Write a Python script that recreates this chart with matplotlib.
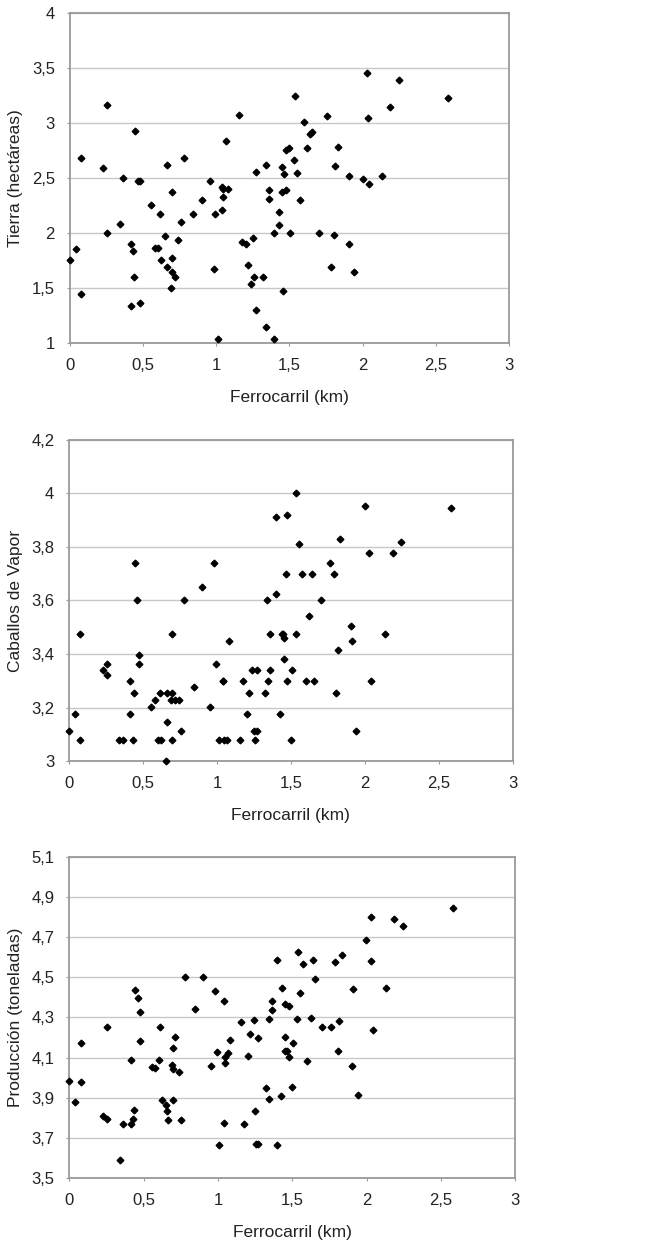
import numpy as np
import matplotlib.pyplot as plt
from matplotlib.ticker import FuncFormatter, FixedLocator, MultipleLocator

plt.rcParams["font.family"] = ["Liberation Sans", "DejaVu Sans"]

# Panel 1: Tierra (hectareas) vs Ferrocarril (km)
x_tierra = [0.0, 0.043, 0.08, 0.08, 0.23, 0.255, 0.255, 0.344, 0.362, 0.417, 0.417, 0.43,
            0.442, 0.448, 0.464, 0.478, 0.478, 0.558, 0.58, 0.603, 0.615, 0.626, 0.653,
            0.662, 0.665, 0.69, 0.699, 0.699, 0.699, 0.717, 0.742, 0.758, 0.778, 0.845,
            0.904, 0.961, 0.983, 0.992, 1.015, 1.043, 1.045, 1.045, 1.043, 1.07, 1.081,
            1.159, 1.179, 1.204, 1.216, 1.241, 1.25, 1.257, 1.272, 1.272, 1.323, 1.343,
            1.343, 1.364, 1.364, 1.398, 1.398, 1.43, 1.432, 1.448, 1.452, 1.455, 1.464,
            1.475, 1.477, 1.498, 1.507, 1.532, 1.539, 1.55, 1.575, 1.603, 1.623, 1.644,
            1.653, 1.70, 1.76, 1.787, 1.807, 1.814, 1.835, 1.905, 1.91, 1.942, 2.003,
            2.03, 2.035, 2.044, 2.133, 2.19, 2.247, 2.581]
y_tierra = [1.755, 1.86, 2.68, 1.445, 2.59, 3.17, 2.0, 2.085, 2.506, 1.903, 1.342, 1.842,
            1.603, 2.927, 2.476, 2.476, 1.364, 2.255, 1.87, 1.87, 2.176, 1.755, 1.973,
            2.618, 1.69, 1.503, 2.373, 1.779, 1.652, 1.603, 1.942, 2.106, 2.682, 2.176,
            2.30, 2.476, 1.679, 2.176, 1.04, 2.424, 2.406, 2.33, 2.215, 2.842, 2.403,
            3.073, 1.924, 1.906, 1.712, 1.542, 1.96, 1.603, 2.56, 1.30, 1.603, 2.624,
            1.145, 2.39, 2.315, 2.0, 1.04, 2.19, 2.076, 2.373, 2.606, 1.476, 2.54,
            2.76, 2.394, 2.779, 2.0, 2.67, 3.245, 2.545, 2.30, 3.015, 2.779, 2.90,
            2.92, 2.0, 3.07, 1.697, 1.985, 2.612, 2.788, 1.906, 2.524, 1.652, 2.494,
            3.455, 3.05, 2.445, 2.524, 3.152, 3.397, 3.23]

# Panel 2: Caballos de Vapor vs Ferrocarril (km)
x_vapor = [0.0, 0.04, 0.077, 0.077, 0.23, 0.255, 0.255, 0.34, 0.363, 0.414, 0.414, 0.43,
           0.439, 0.448, 0.462, 0.477, 0.477, 0.554, 0.579, 0.601, 0.613, 0.624, 0.653,
           0.662, 0.662, 0.687, 0.698, 0.698, 0.698, 0.714, 0.743, 0.755, 0.777, 0.845,
           0.90, 0.955, 0.982, 0.991, 1.014, 1.04, 1.044, 1.047, 1.068, 1.079, 1.155,
           1.176, 1.203, 1.214, 1.239, 1.252, 1.255, 1.27, 1.27, 1.322, 1.34, 1.342,
           1.36, 1.36, 1.396, 1.396, 1.428, 1.437, 1.444, 1.45, 1.453, 1.464, 1.475,
           1.475, 1.498, 1.507, 1.532, 1.536, 1.552, 1.574, 1.601, 1.624, 1.642, 1.653,
           1.70, 1.761, 1.788, 1.806, 1.815, 1.833, 1.903, 1.91, 1.941, 2.002, 2.029,
           2.043, 2.133, 2.189, 2.245, 2.581]
y_vapor = [3.113, 3.175, 3.476, 3.078, 3.341, 3.362, 3.321, 3.078, 3.078, 3.30, 3.175, 3.078,
           3.254, 3.74, 3.60, 3.397, 3.362, 3.203, 3.23, 3.078, 3.254, 3.078, 3.0,
           3.254, 3.146, 3.23, 3.476, 3.254, 3.078, 3.23, 3.23, 3.113, 3.60, 3.279,
           3.652, 3.203, 3.74, 3.362, 3.078, 3.30, 3.30, 3.078, 3.078, 3.447, 3.078,
           3.30, 3.175, 3.254, 3.341, 3.113, 3.078, 3.341, 3.113, 3.254, 3.60, 3.30,
           3.476, 3.341, 3.913, 3.623, 3.175, 3.476, 3.476, 3.461, 3.381, 3.70, 3.918,
           3.30, 3.078, 3.341, 3.476, 4.0, 3.812, 3.70, 3.30, 3.544, 3.70, 3.30,
           3.60, 3.74, 3.70, 3.254, 3.414, 3.831, 3.504, 3.447, 3.113, 3.954, 3.777,
           3.30, 3.476, 3.777, 3.818, 3.944]

# Panel 3: Produccion (toneladas) vs Ferrocarril (km)
x_prod = [0.0, 0.04, 0.076, 0.076, 0.229, 0.253, 0.253, 0.341, 0.361, 0.413, 0.415, 0.428,
          0.437, 0.444, 0.46, 0.475, 0.475, 0.554, 0.576, 0.601, 0.612, 0.621, 0.65,
          0.659, 0.661, 0.688, 0.695, 0.695, 0.695, 0.713, 0.738, 0.753, 0.776, 0.843,
          0.899, 0.955, 0.98, 0.991, 1.009, 1.038, 1.04, 1.045, 1.049, 1.067, 1.078,
          1.155, 1.175, 1.202, 1.213, 1.24, 1.249, 1.253, 1.269, 1.269, 1.32, 1.341,
          1.343, 1.361, 1.361, 1.395, 1.397, 1.426, 1.43, 1.451, 1.448, 1.453, 1.462,
          1.475, 1.475, 1.498, 1.504, 1.531, 1.538, 1.549, 1.572, 1.601, 1.623, 1.639,
          1.652, 1.697, 1.76, 1.785, 1.805, 1.812, 1.832, 1.904, 1.908, 1.939, 1.998,
          2.027, 2.031, 2.043, 2.13, 2.186, 2.244, 2.578]
y_prod = [3.986, 3.881, 4.172, 3.978, 3.81, 4.253, 3.794, 3.59, 3.772, 4.09, 3.769, 3.794,
          3.838, 4.435, 4.396, 4.328, 4.182, 4.056, 4.049, 4.087, 4.253, 3.89, 3.863,
          3.837, 3.79, 4.062, 4.046, 4.148, 3.89, 4.201, 4.027, 3.79, 4.503, 4.341,
          4.503, 4.059, 4.434, 4.129, 3.664, 4.381, 3.777, 4.075, 4.105, 4.122, 4.188,
          4.276, 3.77, 4.107, 4.218, 4.286, 3.835, 3.671, 3.671, 4.197, 3.948, 4.293,
          3.893, 4.337, 4.382, 4.586, 3.664, 3.908, 4.445, 4.205, 4.132, 4.369, 4.132,
          4.357, 4.104, 3.953, 4.172, 4.294, 4.628, 4.422, 4.566, 4.082, 4.296, 4.588,
          4.493, 4.251, 4.251, 4.575, 4.132, 4.281, 4.609, 4.059, 4.442, 3.913, 4.686,
          4.799, 4.58, 4.24, 4.449, 4.792, 4.757, 4.845]

y_ticks_tierra = [1, 1.5, 2, 2.5, 3, 3.5, 4]
y_ticks_vapor = [3, 3.2, 3.4, 3.6, 3.8, 4, 4.2]
y_ticks_prod = [3.5, 3.7, 3.9, 4.1, 4.3, 4.5, 4.7, 4.9, 5.1]

panels = [
    (x_tierra, y_tierra, "Tierra (hectáreas)", y_ticks_tierra, [0.106, 0.7247, 0.670, 0.2647]),
    (x_vapor, y_vapor, "Caballos de Vapor", y_ticks_vapor, [0.105, 0.3895, 0.677, 0.2579]),
    (x_prod, y_prod, "Producción (toneladas)", y_ticks_prod, [0.1057, 0.0551, 0.680, 0.2579]),
]


def comma(v, pos):
    s = f"{v:.1f}"
    if s.endswith(".0"):
        s = s[:-2]
    return s.replace(".", ",")


fig = plt.figure(figsize=(6.56, 12.47), dpi=100)

for xs, ys, ylabel, yticks, rect in panels:
    ax = fig.add_axes(rect)
    ax.plot(xs, ys, linestyle="none", marker="D", markersize=3.4,
            color="black", zorder=3, clip_on=False)
    ax.set_xlim(0, 3)
    ax.set_ylim(yticks[0], yticks[-1])
    ax.xaxis.set_major_locator(MultipleLocator(0.5))
    ax.yaxis.set_major_locator(FixedLocator(yticks))
    ax.xaxis.set_major_formatter(FuncFormatter(comma))
    ax.yaxis.set_major_formatter(FuncFormatter(comma))
    ax.grid(axis="y", color="#c8c8c8", linewidth=1.0)
    ax.set_axisbelow(True)
    for sp in ax.spines.values():
        sp.set_color("#9a9a9a")
        sp.set_linewidth(1.3)
    ax.tick_params(length=2.5, width=0.8, color="#9a9a9a",
                   labelsize=12, pad=8, labelcolor="#222222")
    ax.set_xlabel("Ferrocarril (km)", fontsize=12.5, labelpad=12, color="#222222")
    ax.set_ylabel(ylabel, fontsize=12.5, labelpad=6, color="#222222")

fig.savefig("out.png", dpi=100)
